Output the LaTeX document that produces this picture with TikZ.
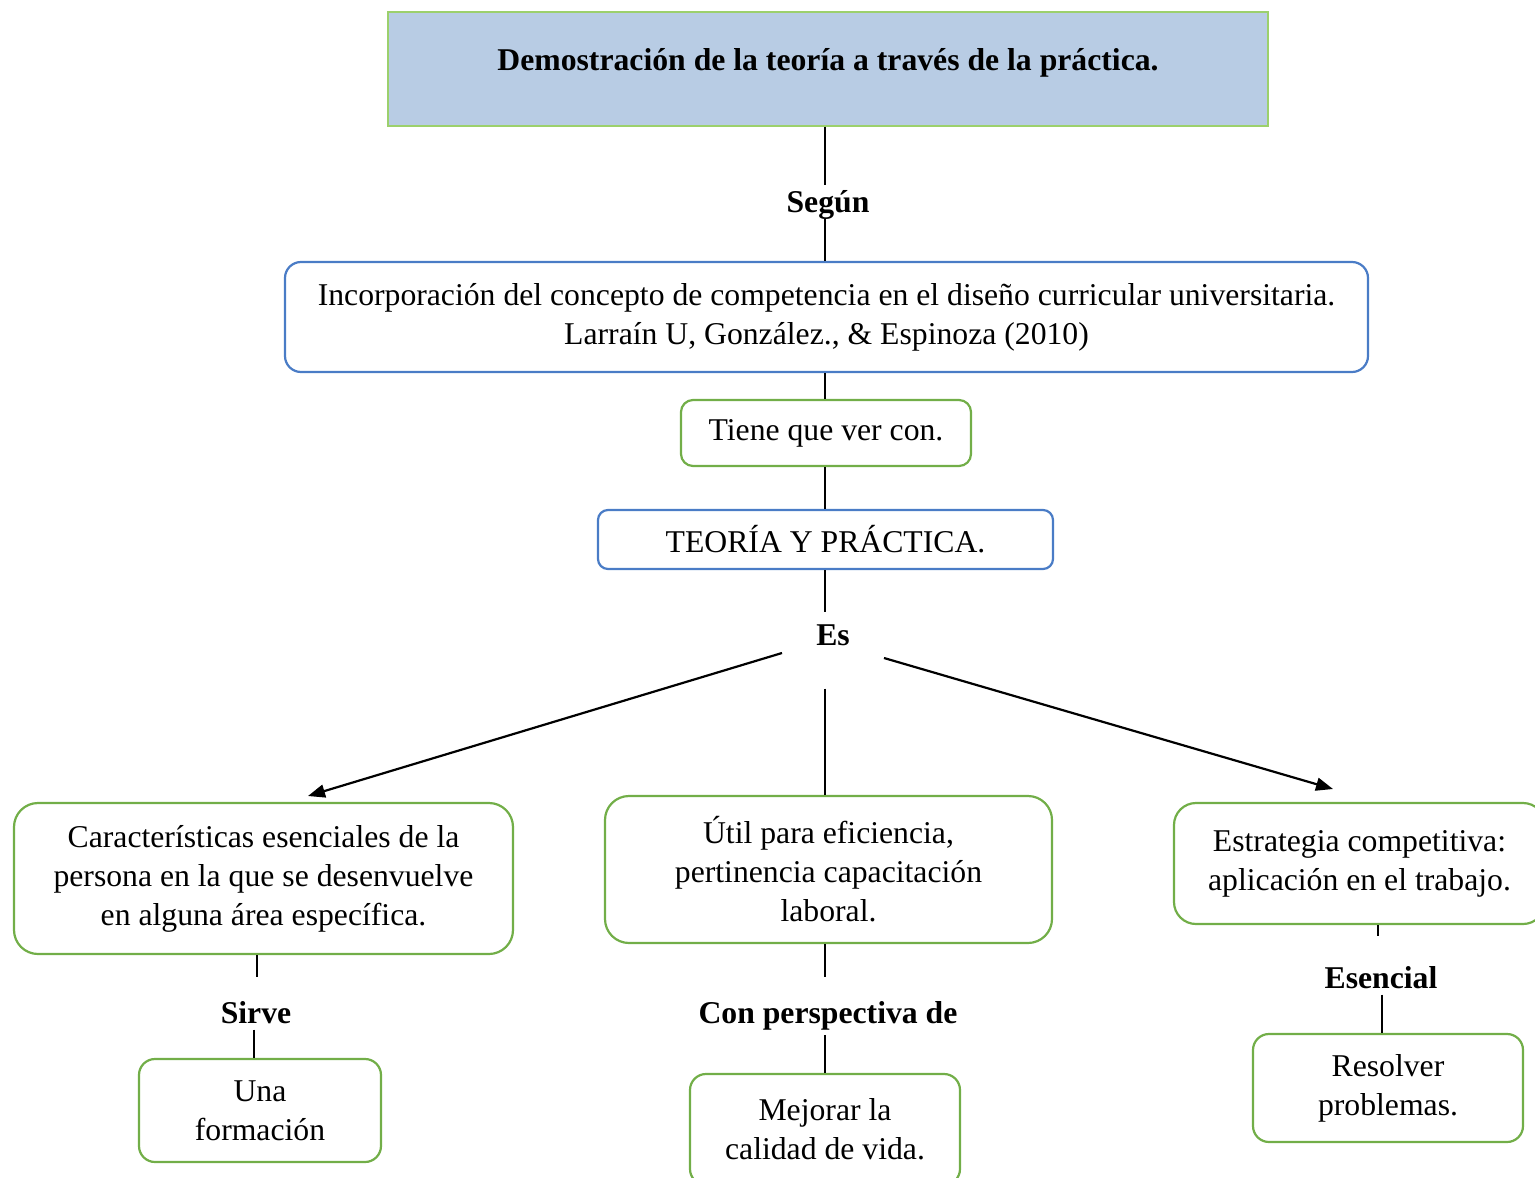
\documentclass[tikz,border=0pt]{standalone}
\usepackage{fontspec}
\setmainfont{Liberation Serif}
\usetikzlibrary{arrows.meta,calc}
\definecolor{bordblue}{HTML}{4A7CC6}
\definecolor{bordgreen}{HTML}{72AE48}
\definecolor{topfill}{HTML}{B8CCE4}
\definecolor{topline}{HTML}{9CD06C}
\begin{document}
\begin{tikzpicture}[x=1pt,y=-1pt,
  every node/.style={font=\fontsize{31.7}{39}\selectfont, align=center, inner sep=0pt},
  bluebox/.style={draw=bordblue, line width=2.2pt, rounded corners=16pt},
  greenbox/.style={draw=bordgreen, line width=2.2pt, rounded corners=20pt},
  conn/.style={line width=2.2pt},
  arr/.style={conn, -{Triangle[length=17pt,width=13pt]}},
  lbl/.style={font=\fontsize{31.7}{39}\selectfont\bfseries, anchor=base}
]
\useasboundingbox (0,0) rectangle (1535,1178);
\clip (0,0) rectangle (1535,1178);

% top
\node[fill=topfill, draw=topline, line width=1.2pt, minimum width=880pt, minimum height=114pt] (top) at (828,69) {};
\node[lbl] (toptxt) at (828,70) {Demostración de la teoría a través de la práctica.};
\node[lbl] (segun) at (828,212) {Según};
\node[bluebox, minimum width=1083pt, minimum height=110pt] (box2) at (826.5,317)
  {Incorporación del concepto de competencia en el diseño curricular universitaria.\\Larraín U, González., \& Espinoza (2010)};
\node[greenbox, rounded corners=12pt, minimum width=290pt, minimum height=66pt] (tiene) at (826,433) {Tiene que ver con.};
\node[bluebox, rounded corners=10pt, minimum width=455pt, minimum height=59pt] (teoria) at (825.5,539.5) {TEORÍA Y PRÁCTICA.};
\node[lbl] (es) at (833,645) {Es};

\node[greenbox, rounded corners=24pt, minimum width=499pt, minimum height=151pt] (c1) at (263.5,878.5)
  {Características esenciales de la\\persona en la que se desenvuelve\\en alguna área específica.};
\node[greenbox, rounded corners=24pt, minimum width=447pt, minimum height=147pt] (c2) at (828.5,869.5)
  {Útil para eficiencia,\\pertinencia capacitación\\laboral.};
\node[greenbox, rounded corners=22pt, minimum width=371pt, minimum height=121pt] (c3) at (1359.5,863.5)
  {Estrategia competitiva:\\aplicación en el trabajo.};

\node[lbl] (sirve) at (256,1023) {Sirve};
\node[lbl] (conp) at (828,1023) {Con perspectiva de};
\node[lbl] (esen) at (1381,988) {Esencial};

\node[greenbox, rounded corners=16pt, minimum width=242pt, minimum height=103pt] (d1) at (260,1110.5) {Una\\formación};
\node[greenbox, rounded corners=16pt, minimum width=270pt, minimum height=111pt] (d2) at (825,1129.5) {Mejorar la\\calidad de vida.};
\node[greenbox, rounded corners=16pt, minimum width=270pt, minimum height=108pt] (d3) at (1388,1088) {Resolver\\problemas.};

\coordinate (esL) at (782,653);
\coordinate (tipL) at (308,796);
\coordinate (esR) at (884,658);
\coordinate (tipR) at (1333,789);

% connectors
\draw[conn, shorten >=5pt] (top.south -| 825,0) -- (segun.north -| 825,0);
\draw[conn] (segun.south -| 825,0) -- (box2.north -| 825,0);
\draw[conn] (box2.south -| 825,0) -- (tiene.north -| 825,0);
\draw[conn] (tiene.south -| 825,0) -- (teoria.north -| 825,0);
\draw[conn, shorten >=12pt] (teoria.south -| 825,0) -- (es.north -| 825,0);
\draw[conn, shorten <=43pt] (es.south -| 825,0) -- (c2.north -| 825,0);
\draw[arr] (esL) -- (tipL);
\draw[arr] (esR) -- (tipR);

\draw[conn, shorten >=24pt] (c1.south -| 257,0) -- (sirve.north -| 257,0);
\draw[conn, shorten <=6pt] (sirve.south -| 254,0) -- (d1.north -| 254,0);
\draw[conn, shorten >=24pt] (c2.south -| 825,0) -- (conp.north -| 825,0);
\draw[conn, shorten <=5pt] (conp.south -| 825,0) -- (d2.north -| 825,0);
\draw[conn, shorten >=30pt] (c3.south -| 1378,0) -- (esen.north -| 1378,0);
\draw[conn, shorten <=6pt] (esen.south -| 1382,0) -- (d3.north -| 1382,0);
\end{tikzpicture}
\end{document}
